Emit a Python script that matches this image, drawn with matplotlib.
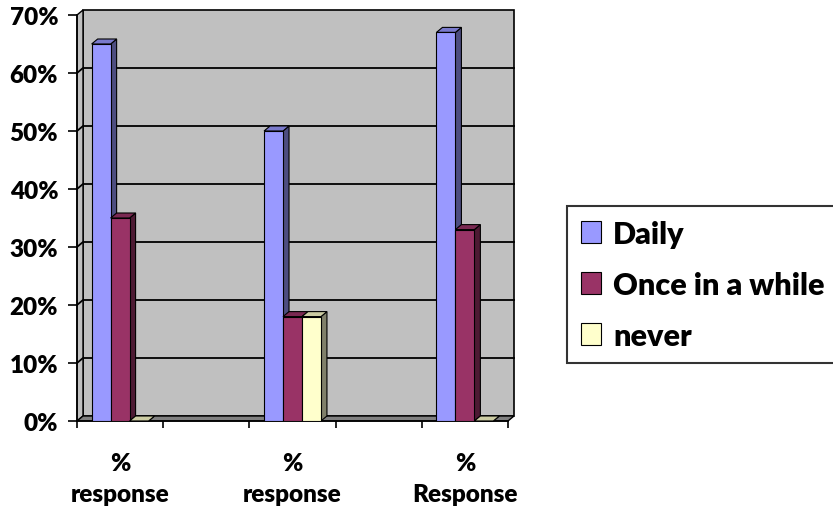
import matplotlib
matplotlib.use("Agg")
import matplotlib.pyplot as plt
from matplotlib.patches import Polygon, Patch

# survey results, one slot per category (blank slots keep the spacing)
categories = ["%\nresponse", "", "%\nresponse", "", "%\nResponse"]
series_names = ["Daily", "Once in a while", "never"]
daily = [65, None, 50, None, 67]
once_in_a_while = [35, None, 18, None, 33]
never = [0, None, 18, None, 0]
y_ticks = [0, 10, 20, 30, 40, 50, 60, 70]
y_labels = ["%d%%" % v for v in y_ticks]

# front / side / top shades for each series
front_cols = ["#9999FF", "#993366", "#FFFFCC"]
side_cols = ["#4D4D80", "#4D1A33", "#80806A"]
top_cols = ["#7A7ACC", "#7A2952", "#CCCCA3"]

plt.rcParams['font.family'] = ['Lato', 'DejaVu Sans']
WEIGHT = 'heavy'

W, H = 833, 510
fig = plt.figure(figsize=(W / 100, H / 100), dpi=100)
ax = fig.add_axes([77 / W, (H - 422) / H, (508 - 77) / W, (422 - 16) / H])
x0, x1 = -0.5, len(categories) - 0.5
ymax = y_ticks[-1]
ax.set_xlim(x0, x1)
ax.set_ylim(0, ymax)
ax.patch.set_visible(False)

# depth of the 3d box, 6px right and 5px up
pos = ax.get_position()
dx = 6 / (pos.width * W) * (x1 - x0)
dy = 5 / (pos.height * H) * ymax

def face(pts, color, z, lw=0.8):
    ax.add_patch(Polygon(pts, closed=True, facecolor=color, edgecolor='black',
                         linewidth=lw, zorder=z, clip_on=False))

# walls and floor
face([(x0 + dx, dy), (x1 + dx, dy), (x1 + dx, ymax + dy), (x0 + dx, ymax + dy)], "#C0C0C0", 1, 1.2)
face([(x0, 0), (x0 + dx, dy), (x0 + dx, ymax + dy), (x0, ymax)], "#C0C0C0", 1, 1.0)
face([(x0, 0), (x1, 0), (x1 + dx, dy), (x0 + dx, dy)], "#808080", 1, 1.0)
for v in y_ticks[1:-1]:
    ax.plot([x0, x0 + dx, x1 + dx], [v, v + dy, v + dy], color='black', lw=1.3,
            zorder=1.5, clip_on=False)

w = 0.22
for i, vals in enumerate([daily, once_in_a_while, never]):
    z = 3 + i * 0.1
    for j, v in enumerate(vals):
        if v is None:
            continue
        xl = j - 1.5 * w + i * w
        xr = xl + w
        face([(xr, 0), (xr + dx, dy), (xr + dx, v + dy), (xr, v)], side_cols[i], z)
        face([(xl, v), (xr, v), (xr + dx, v + dy), (xl + dx, v + dy)], top_cols[i], z)
        ax.bar(xl, v, width=w, align='edge', color=front_cols[i], edgecolor='black',
               linewidth=0.8, zorder=z)

for s in ['top', 'right']:
    ax.spines[s].set_visible(False)
for s in ['left', 'bottom']:
    ax.spines[s].set_linewidth(1.2)
    ax.spines[s].set_zorder(2)

ax.set_yticks(y_ticks)
ax.set_yticklabels(y_labels, fontsize=17.5, fontweight=WEIGHT)
ax.tick_params(axis='y', length=6.5, width=1.2, pad=7)

ax.set_xticks([x0 + k for k in range(len(categories) + 1)])
ax.set_xticklabels([])
ax.tick_params(axis='x', which='major', length=5, width=1.2)
ax.set_xticks(range(len(categories)), minor=True)
ax.set_xticklabels(categories, minor=True, fontsize=17.5, fontweight=WEIGHT, linespacing=1.55)
ax.tick_params(axis='x', which='minor', length=0, pad=22)

handles = [Patch(facecolor=c, edgecolor='black', linewidth=0.8) for c in front_cols]
leg = fig.legend(handles, series_names, loc='upper left', bbox_to_anchor=(567 / W, 1 - 207 / H),
                 frameon=True, fancybox=False, handlelength=0.66, handleheight=0.7,
                 handletextpad=0.4, labelspacing=0.75, borderpad=0.45, borderaxespad=0,
                 prop={'size': 22, 'weight': WEIGHT})
leg.get_frame().set_edgecolor('black')
leg.get_frame().set_linewidth(1.5)

fig.savefig("out.png", dpi=100, facecolor='white')
